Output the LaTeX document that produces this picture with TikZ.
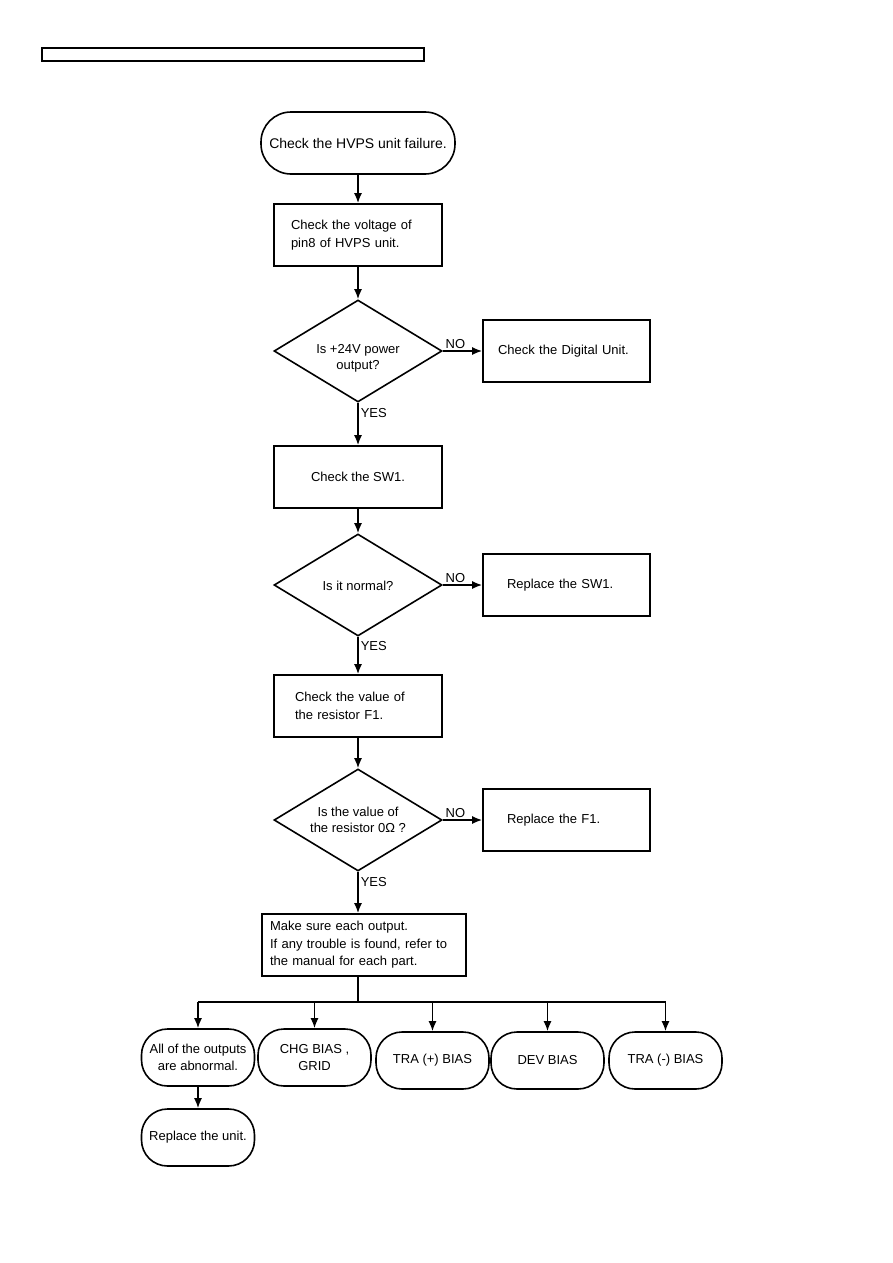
\documentclass[tikz,border=0pt]{standalone}
\usepackage{fontspec}
\setmainfont{Liberation Sans}
\usetikzlibrary{shapes.geometric,arrows.meta}
\tikzset{
  box/.style={draw, line width=1.7pt, minimum width=168pt, minimum height=62pt, inner sep=0pt},
  rbox/.style={box, minimum width=167pt},
  dia/.style={draw, diamond, line width=1.6pt, aspect=1.65, minimum width=168pt, minimum height=102pt, inner sep=0pt, align=center},
  term/.style={draw, line width=1.6pt, rounded corners=26pt, minimum width=113pt, minimum height=57pt, inner sep=0pt, align=center},
  arr/.style={-{Latex[length=10pt,width=8pt]}, line width=1.6pt},
  ln/.style={line width=1.6pt},
  lbl/.style={font=\fontsize{13}{15}\selectfont, inner sep=2pt},
  dtext/.style={align=center, inner sep=0pt, font=\fontsize{13}{16}\selectfont}
}
\begin{document}
\begin{tikzpicture}[x=1pt,y=-1pt, font=\fontsize{13}{17.5}\selectfont]
\useasboundingbox (0,0) rectangle (893,1263);
\node[draw, line width=1.7pt, minimum width=382pt, minimum height=13pt, inner sep=0pt] (hdr) at (233,54.5) {};

\node[term, minimum width=194pt, minimum height=62pt, rounded corners=30pt, font=\fontsize{14}{17}\selectfont] (start) at (358,143) {Check the HVPS unit failure.};
\node[box, text width=134pt, align=left] (b1) at (358,235) {Check the voltage of\\pin8 of HVPS unit.};
\node[dia] (d1) at (358,351) {};
\node[dtext] (d1t) at (358,358) {Is +24V power\\output?};
\node[rbox, text width=137pt, align=left] (r1) at (566.5,351) {Check the Digital Unit.};
\node[box] (b2) at (358,477) {Check the SW1.};
\node[dia] (d2) at (358,585) {};
\node[dtext] (d2t) at (358,586) {Is it normal?};
\node[rbox, text width=119pt, align=left] (r2) at (566.5,585) {Replace the SW1.};
\node[box, text width=126pt, align=left] (b3) at (358,706) {Check the value of\\the resistor F1.};
\node[dia] (d3) at (358,820) {};
\node[dtext] (d3t) at (358,820) {Is the value of\\the resistor 0Ω ?};
\node[rbox, text width=119pt, align=left] (r3) at (566.5,820) {Replace the F1.};
\node[box, minimum width=204pt, text width=188pt, align=left] (b4) at (364,945) {Make sure each output.\\If any trouble is found, refer to\\the manual for each part.};

\node[term] (n1) at (198,1057.5) {All of the outputs\\are abnormal.};
\node[term] (n2) at (314.5,1057.5) {CHG BIAS ,\\GRID};
\node[term] (n3) at (432.5,1060.5) {TRA (+) BIAS};
\node[term] (n4) at (547.5,1060.5) {DEV BIAS};
\node[term] (n5) at (665.5,1060.5) {TRA (-) BIAS};
\node[term] (n6) at (198,1137.5) {Replace the unit.};

\coordinate (j) at (358,1002);

\draw[arr] (start) -- (b1);
\draw[arr] (b1) -- (d1);
\draw[arr] (d1) -- node[lbl, pos=0.32, above] {NO} (r1);
\draw[arr] (d1) -- node[lbl, pos=0.25, right] {YES} (b2);
\draw[arr] (b2) -- (d2);
\draw[arr] (d2) -- node[lbl, pos=0.32, above] {NO} (r2);
\draw[arr] (d2) -- node[lbl, pos=0.25, right] {YES} (b3);
\draw[arr] (b3) -- (d3);
\draw[arr] (d3) -- node[lbl, pos=0.32, above] {NO} (r3);
\draw[arr] (d3) -- node[lbl, pos=0.25, right] {YES} (b4.north -| d3);
\draw[ln] (b4.south -| j) -- (j);
\draw[ln] (j -| n1) -- (j -| n5);
\draw[arr] (j -| n1) -- (n1);
\draw[arr] (j -| n2) -- (n2);
\draw[arr] (j -| n3) -- (n3);
\draw[arr] (j -| n4) -- (n4);
\draw[arr] (j -| n5) -- (n5);
\draw[arr] (n1) -- (n6);
\end{tikzpicture}
\end{document}
